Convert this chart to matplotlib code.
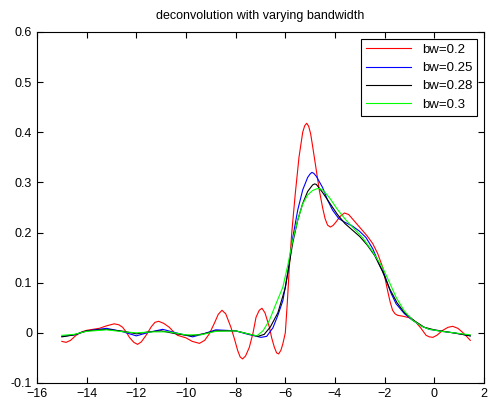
import matplotlib
matplotlib.use("Agg")
import matplotlib.pyplot as plt

# bw=0.2 (red)
x_02 = [-15.0, -14.83, -14.65, -14.43, -14.2, -14.0, -13.75, -13.49, -13.2, -12.89,
        -12.7, -12.55, -12.4, -12.28, -12.1, -11.95, -11.8, -11.61, -11.4, -11.25,
        -11.1, -10.9, -10.67, -10.5, -10.34, -10.0, -9.75, -9.46, -9.25, -9.06,
        -8.85, -8.7, -8.55, -8.4, -8.19, -8.05, -7.92, -7.82, -7.72, -7.6,
        -7.45, -7.3, -7.18, -7.05, -6.94, -6.82, -6.64, -6.55, -6.44, -6.35,
        -6.27, -6.18, -6.1, -6.0, -5.92, -5.84, -5.74, -5.6, -5.45, -5.3,
        -5.22, -5.14, -5.06, -4.98, -4.9, -4.77, -4.63, -4.5, -4.4, -4.3,
        -4.19, -4.08, -3.96, -3.8, -3.62, -3.45, -3.29, -3.1, -2.89, -2.7,
        -2.48, -2.28, -2.08, -1.98, -1.88, -1.78, -1.68, -1.58, -1.48, -1.25,
        -1.0, -0.74, -0.55, -0.33, -0.2, -0.06, 0.1, 0.34, 0.55, 0.74,
        0.95, 1.14, 1.3, 1.45]
y_02 = [-0.017, -0.019, -0.015, -0.005, 0.002, 0.005, 0.007, 0.009, 0.014, 0.018,
        0.016, 0.011, 0.001, -0.009, -0.019, -0.023, -0.018, -0.005, 0.012, 0.021,
        0.023, 0.019, 0.011, 0.002, -0.005, -0.01, -0.017, -0.021, -0.015, -0.002,
        0.02, 0.037, 0.045, 0.038, 0.011, -0.012, -0.035, -0.048, -0.052, -0.046,
        -0.029, 0.0, 0.031, 0.045, 0.049, 0.04, 0.011, -0.01, -0.029, -0.04,
        -0.042, -0.035, -0.022, 0.0, 0.06, 0.13, 0.2, 0.277, 0.35, 0.40,
        0.413, 0.418, 0.412, 0.397, 0.372, 0.33, 0.284, 0.25, 0.228, 0.215,
        0.211, 0.214, 0.221, 0.232, 0.239, 0.236, 0.227, 0.216, 0.204, 0.193,
        0.178, 0.158, 0.131, 0.108, 0.084, 0.062, 0.045, 0.038, 0.035, 0.033,
        0.03, 0.021, 0.01, -0.005, -0.008, -0.009, -0.005, 0.005, 0.011, 0.013,
        0.009, 0.001, -0.007, -0.015]

# bw=0.25 (blue)
x_025 = [-15.0, -14.5, -14.0, -13.2, -12.6, -12.0, -11.5, -10.94, -10.4, -9.73,
         -9.3, -8.8, -8.0, -7.5, -6.98, -6.75, -6.5, -6.3, -6.1, -5.9,
         -5.7, -5.5, -5.3, -5.1, -5.0, -4.93, -4.85, -4.75, -4.5, -4.3,
         -4.1, -3.85, -3.62, -3.3, -3.02, -2.75, -2.48, -2.2, -2.0, -1.75,
         -1.54, -1.2, -0.87, -0.5, -0.2, 0.3, 0.8, 1.45]
y_025 = [-0.007, -0.004, 0.004, 0.009, 0.003, -0.006, 0.001, 0.007, 0.0, -0.008,
         -0.002, 0.006, 0.004, -0.003, -0.009, -0.007, 0.01, 0.035, 0.064, 0.12,
         0.19, 0.245, 0.285, 0.31, 0.317, 0.32, 0.318, 0.312, 0.29, 0.265,
         0.245, 0.228, 0.221, 0.213, 0.203, 0.19, 0.168, 0.135, 0.115, 0.08,
         0.058, 0.038, 0.025, 0.013, 0.007, 0.003, 0.0, -0.006]

# bw=0.28 (black)
x_028 = [-15.0, -14.5, -14.0, -13.2, -12.5, -12.0, -11.5, -11.0, -10.4, -9.8,
         -9.3, -8.8, -8.0, -7.5, -7.1, -6.85, -6.6, -6.3, -6.0, -5.7,
         -5.5, -5.3, -5.1, -4.9, -4.82, -4.75, -4.5, -4.2, -3.9, -3.6,
         -3.3, -3.0, -2.7, -2.4, -2.1, -1.8, -1.5, -1.2, -0.8, -0.4,
         0.0, 0.5, 1.0, 1.45]
y_028 = [-0.008, -0.004, 0.004, 0.007, 0.003, -0.002, 0.002, 0.004, -0.002, -0.006,
         -0.002, 0.004, 0.004, -0.002, -0.007, -0.003, 0.012, 0.04, 0.09, 0.18,
         0.225, 0.258, 0.282, 0.295, 0.297, 0.296, 0.28, 0.258, 0.236, 0.218,
         0.205, 0.192, 0.175, 0.154, 0.124, 0.088, 0.06, 0.04, 0.024, 0.011,
         0.006, 0.002, -0.002, -0.006]

# bw=0.3 (green)
x_03 = [-15.0, -14.5, -14.0, -13.2, -12.5, -12.0, -11.3, -10.7, -10.0, -9.4,
        -8.8, -8.0, -7.5, -7.15, -6.9, -6.64, -6.4, -6.1, -5.9, -5.7,
        -5.5, -5.3, -5.1, -4.9, -4.75, -4.63, -4.5, -4.4, -4.2, -3.9,
        -3.56, -3.2, -2.89, -2.5, -2.08, -1.8, -1.54, -1.2, -0.87, -0.5,
        -0.2, 0.3, 0.8, 1.45]
y_03 = [-0.005, -0.003, 0.003, 0.006, 0.002, 0.0, 0.002, 0.002, -0.004, -0.004,
        0.003, 0.004, -0.002, -0.006, 0.004, 0.025, 0.055, 0.091, 0.135, 0.185,
        0.225, 0.257, 0.275, 0.284, 0.287, 0.288, 0.285, 0.28, 0.268, 0.246,
        0.225, 0.206, 0.19, 0.163, 0.13, 0.1, 0.071, 0.043, 0.025, 0.013,
        0.007, 0.003, 0.0, -0.004]

labels = ["bw=0.2", "bw=0.25", "bw=0.28", "bw=0.3"]
colors = ["#ff0000", "#0000ff", "#000000", "#00ff00"]

plt.rcParams["font.family"] = "Liberation Sans"
fig = plt.figure(figsize=(4.89, 4.07), dpi=100)
ax = fig.add_axes([0.0757, 0.059, 0.914, 0.8624])

series = [(x_02, y_02), (x_025, y_025), (x_028, y_028), (x_03, y_03)]
for (xs, ys), lab, c in zip(series, labels, colors):
    ax.plot(xs, ys, color=c, lw=0.8, label=lab)

ax.set_xlim(-16, 2)
ax.set_ylim(-0.1, 0.6)
ax.set_xticks(range(-16, 3, 2))
ax.set_yticks([-0.1, 0, 0.1, 0.2, 0.3, 0.4, 0.5, 0.6])
ax.set_yticklabels(["-0.1", "0", "0.1", "0.2", "0.3", "0.4", "0.5", "0.6"])
ax.tick_params(direction="in", top=True, right=True, labelsize=9, length=4, width=0.8)
for s in ax.spines.values():
    s.set_linewidth(0.8)
ax.set_title("deconvolution with varying bandwidth", fontsize=9, pad=9)

leg = ax.legend(loc="upper right", fontsize=9.5, fancybox=False, framealpha=1,
                edgecolor="black", handlelength=3.4, borderaxespad=0.5,
                labelspacing=0.45, borderpad=0.4)
leg.get_frame().set_linewidth(0.8)

fig.savefig("out.png", dpi=100)
